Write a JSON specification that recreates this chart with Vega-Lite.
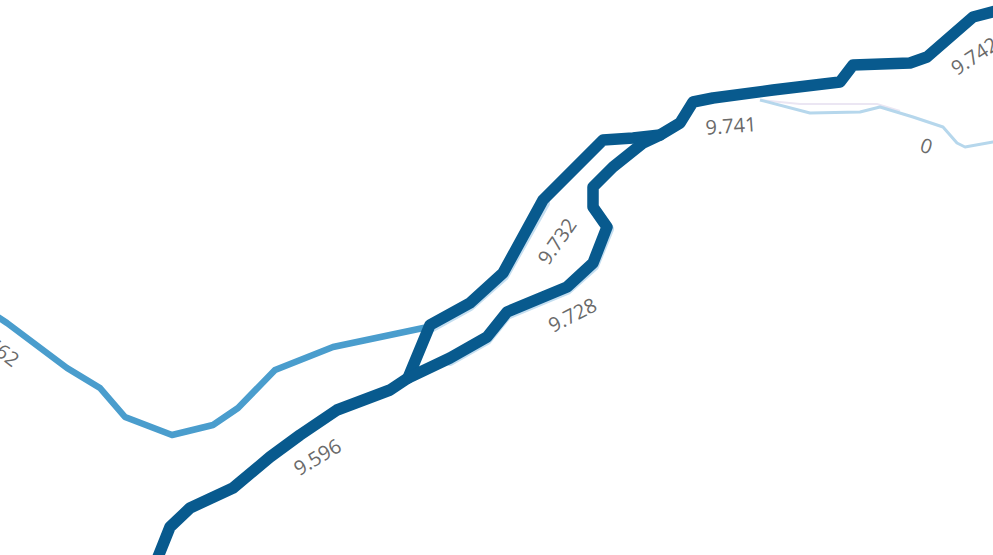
{
  "$schema": "https://vega.github.io/schema/vega-lite/v6.json",
  "width": 993,
  "height": 555,
  "autosize": {"type": "fit", "contains": "padding"},
  "padding": 0,
  "background": "white",
  "config": {"view": {"stroke": null}},
  "datasets": {
    "lines": [
      {"line": "lav", "i": 0, "x": 760, "y": 100},
      {"line": "lav", "i": 1, "x": 800, "y": 104},
      {"line": "lav", "i": 2, "x": 877, "y": 104},
      {"line": "lav", "i": 3, "x": 900, "y": 111},

      {"line": "light", "i": 0, "x": 760, "y": 100},
      {"line": "light", "i": 1, "x": 810, "y": 113},
      {"line": "light", "i": 2, "x": 860, "y": 112},
      {"line": "light", "i": 3, "x": 880, "y": 107},
      {"line": "light", "i": 4, "x": 913, "y": 117},
      {"line": "light", "i": 5, "x": 943, "y": 127},
      {"line": "light", "i": 6, "x": 957, "y": 143},
      {"line": "light", "i": 7, "x": 965, "y": 147},
      {"line": "light", "i": 8, "x": 993, "y": 142},
      {"line": "light", "i": 9, "x": 1000, "y": 141},

      {"line": "halo1", "i": 0, "x": 450, "y": 361},
      {"line": "halo1", "i": 1, "x": 487, "y": 340},
      {"line": "halo1", "i": 2, "x": 507, "y": 315},
      {"line": "halo1", "i": 3, "x": 567, "y": 290},
      {"line": "halo1", "i": 4, "x": 594, "y": 266},
      {"line": "halo1", "i": 5, "x": 609, "y": 229},
      {"line": "halo2", "i": 0, "x": 432, "y": 327},
      {"line": "halo2", "i": 1, "x": 470, "y": 306},
      {"line": "halo2", "i": 2, "x": 504, "y": 276},
      {"line": "halo2", "i": 3, "x": 545, "y": 203},

      {"line": "mid", "i": 0, "x": -5, "y": 315},
      {"line": "mid", "i": 1, "x": 7, "y": 323},
      {"line": "mid", "i": 2, "x": 67, "y": 368},
      {"line": "mid", "i": 3, "x": 100, "y": 388},
      {"line": "mid", "i": 4, "x": 125, "y": 417},
      {"line": "mid", "i": 5, "x": 172, "y": 435},
      {"line": "mid", "i": 6, "x": 213, "y": 425},
      {"line": "mid", "i": 7, "x": 238, "y": 408},
      {"line": "mid", "i": 8, "x": 275, "y": 370},
      {"line": "mid", "i": 9, "x": 333, "y": 347},
      {"line": "mid", "i": 10, "x": 428, "y": 327},

      {"line": "dark1", "i": 0, "x": 156, "y": 562},
      {"line": "dark1", "i": 1, "x": 170, "y": 527},
      {"line": "dark1", "i": 2, "x": 190, "y": 508},
      {"line": "dark1", "i": 3, "x": 233, "y": 488},
      {"line": "dark1", "i": 4, "x": 270, "y": 457},
      {"line": "dark1", "i": 5, "x": 300, "y": 435},
      {"line": "dark1", "i": 6, "x": 337, "y": 410},
      {"line": "dark1", "i": 7, "x": 390, "y": 390},
      {"line": "dark1", "i": 8, "x": 408, "y": 378},
      {"line": "dark1", "i": 9, "x": 430, "y": 325},
      {"line": "dark1", "i": 10, "x": 470, "y": 303},
      {"line": "dark1", "i": 11, "x": 503, "y": 273},
      {"line": "dark1", "i": 12, "x": 543, "y": 200},
      {"line": "dark1", "i": 13, "x": 603, "y": 140},
      {"line": "dark1", "i": 14, "x": 633, "y": 138},
      {"line": "dark1", "i": 15, "x": 660, "y": 135},
      {"line": "dark1", "i": 16, "x": 680, "y": 123},
      {"line": "dark1", "i": 17, "x": 693, "y": 102},
      {"line": "dark1", "i": 18, "x": 713, "y": 98},
      {"line": "dark1", "i": 19, "x": 773, "y": 90},
      {"line": "dark1", "i": 20, "x": 840, "y": 82},
      {"line": "dark1", "i": 21, "x": 853, "y": 65},
      {"line": "dark1", "i": 22, "x": 910, "y": 63},
      {"line": "dark1", "i": 23, "x": 927, "y": 57},
      {"line": "dark1", "i": 24, "x": 973, "y": 17},
      {"line": "dark1", "i": 25, "x": 1000, "y": 10},

      {"line": "dark2", "i": 0, "x": 408, "y": 378},
      {"line": "dark2", "i": 1, "x": 450, "y": 358},
      {"line": "dark2", "i": 2, "x": 487, "y": 337},
      {"line": "dark2", "i": 3, "x": 507, "y": 312},
      {"line": "dark2", "i": 4, "x": 567, "y": 287},
      {"line": "dark2", "i": 5, "x": 593, "y": 263},
      {"line": "dark2", "i": 6, "x": 607, "y": 227},
      {"line": "dark2", "i": 7, "x": 593, "y": 207},
      {"line": "dark2", "i": 8, "x": 593, "y": 187},
      {"line": "dark2", "i": 9, "x": 613, "y": 167},
      {"line": "dark2", "i": 10, "x": 643, "y": 143},
      {"line": "dark2", "i": 11, "x": 660, "y": 135}
    ],
    "labels": [
      {"id": "a", "text": "9.596", "x": 318, "y": 458},
      {"id": "b", "text": "9.732", "x": 558, "y": 242},
      {"id": "c", "text": "9.728", "x": 573, "y": 316},
      {"id": "d", "text": "9.741", "x": 731, "y": 127},
      {"id": "e", "text": "9.742", "x": 975, "y": 57},
      {"id": "f", "text": "0", "x": 926, "y": 147},
      {"id": "g", "text": "9.662", "x": 16, "y": 363}
    ]
  },
  "encoding": {
    "x": {"field": "x", "type": "quantitative", "scale": {"domain": [0, 993], "nice": false, "zero": false}, "axis": null},
    "y": {"field": "y", "type": "quantitative", "scale": {"domain": [0, 555], "nice": false, "zero": false, "reverse": true}, "axis": null}
  },
  "layer": [
    {
      "data": {"name": "lines"},
      "transform": [{"filter": "datum.line === 'lav'"}],
      "mark": {"type": "line", "stroke": "#ebe6f3", "strokeWidth": 2, "clip": true},
      "encoding": {"order": {"field": "i", "type": "quantitative"}}
    },
    {
      "data": {"name": "lines"},
      "transform": [{"filter": "datum.line === 'light'"}],
      "mark": {"type": "line", "stroke": "#b6d7ec", "strokeWidth": 3, "strokeJoin": "round", "clip": true},
      "encoding": {"order": {"field": "i", "type": "quantitative"}}
    },
    {
      "data": {"name": "lines"},
      "transform": [{"filter": "datum.line === 'halo1' || datum.line === 'halo2'"}],
      "mark": {"type": "line", "stroke": "#c4def0", "strokeWidth": 10, "strokeJoin": "round", "strokeCap": "round", "clip": true},
      "encoding": {"order": {"field": "i", "type": "quantitative"}, "detail": {"field": "line"}}
    },
    {
      "data": {"name": "lines"},
      "transform": [{"filter": "datum.line === 'mid'"}],
      "mark": {"type": "line", "stroke": "#4a9dcd", "strokeWidth": 6.5, "strokeJoin": "round", "clip": true},
      "encoding": {"order": {"field": "i", "type": "quantitative"}}
    },
    {
      "data": {"name": "lines"},
      "transform": [{"filter": "datum.line === 'dark1' || datum.line === 'dark2'"}],
      "mark": {"type": "line", "stroke": "#085a8e", "strokeWidth": 11.5, "strokeJoin": "round", "strokeCap": "round", "clip": true},
      "encoding": {"order": {"field": "i", "type": "quantitative"}, "detail": {"field": "line"}}
    },
    {
      "data": {"name": "labels"},
      "transform": [{"filter": "datum.id === 'a'"}],
      "mark": {"type": "text", "angle": -31, "font": "Open Sans", "fontSize": 20, "fill": "#6a6a6a", "align": "center", "baseline": "middle", "clip": true},
      "encoding": {"text": {"field": "text"}}
    },
    {
      "data": {"name": "labels"},
      "transform": [{"filter": "datum.id === 'b'"}],
      "mark": {"type": "text", "angle": -55, "font": "Open Sans", "fontSize": 20, "fill": "#6a6a6a", "align": "center", "baseline": "middle", "clip": true},
      "encoding": {"text": {"field": "text"}}
    },
    {
      "data": {"name": "labels"},
      "transform": [{"filter": "datum.id === 'c'"}],
      "mark": {"type": "text", "angle": -27, "font": "Open Sans", "fontSize": 20, "fill": "#6a6a6a", "align": "center", "baseline": "middle", "clip": true},
      "encoding": {"text": {"field": "text"}}
    },
    {
      "data": {"name": "labels"},
      "transform": [{"filter": "datum.id === 'd'"}],
      "mark": {"type": "text", "angle": -4, "font": "Open Sans", "fontSize": 20, "fill": "#6a6a6a", "align": "center", "baseline": "middle", "clip": true},
      "encoding": {"text": {"field": "text"}}
    },
    {
      "data": {"name": "labels"},
      "transform": [{"filter": "datum.id === 'e'"}],
      "mark": {"type": "text", "angle": -33, "font": "Open Sans", "fontSize": 20, "fill": "#6a6a6a", "align": "center", "baseline": "middle", "clip": true},
      "encoding": {"text": {"field": "text"}}
    },
    {
      "data": {"name": "labels"},
      "transform": [{"filter": "datum.id === 'f'"}],
      "mark": {"type": "text", "angle": 18, "font": "Open Sans", "fontSize": 20, "fill": "#6a6a6a", "align": "center", "baseline": "middle", "clip": true},
      "encoding": {"text": {"field": "text"}}
    },
    {
      "data": {"name": "labels"},
      "transform": [{"filter": "datum.id === 'g'"}],
      "mark": {"type": "text", "angle": 37, "font": "Open Sans", "fontSize": 20, "fill": "#6a6a6a", "align": "right", "baseline": "middle", "clip": true},
      "encoding": {"text": {"field": "text"}}
    }
  ]
}
